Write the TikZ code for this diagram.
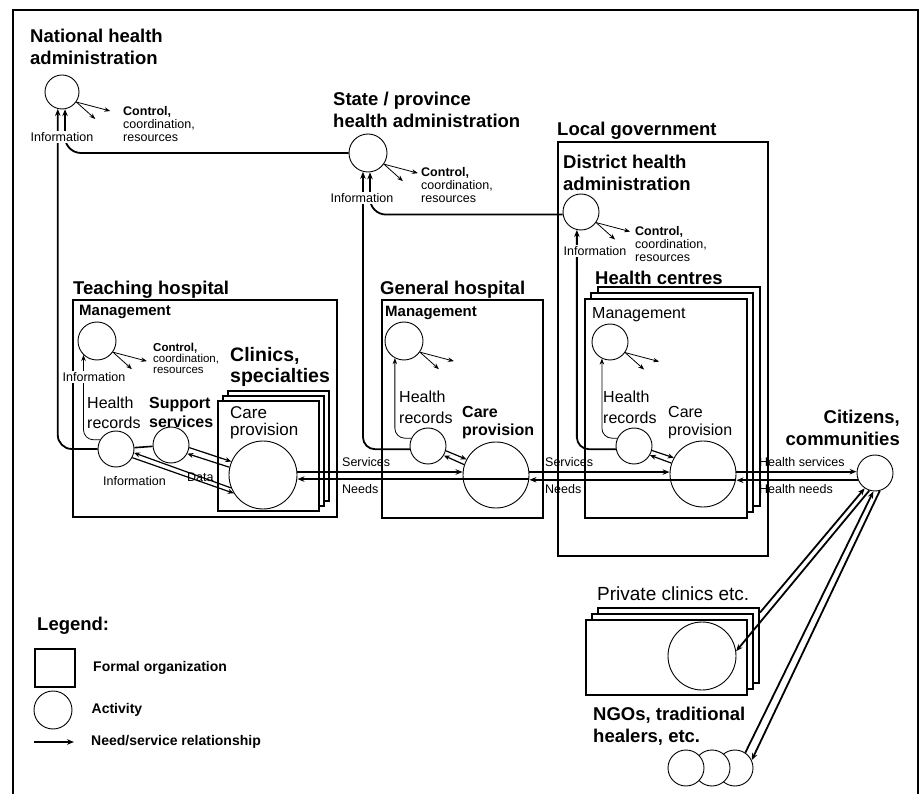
\documentclass[tikz,border=0pt]{standalone}
\usepackage{fontspec}
\setmainfont{Liberation Sans}
\usetikzlibrary{positioning,arrows.meta}

\begin{document}
\begin{tikzpicture}[x=1pt, y=-1pt, >={Stealth[length=7pt,width=5.5pt]},
  box/.style={draw, line width=2pt, fill=white, inner sep=0pt, anchor=north west},
  act/.style={circle, draw, line width=0.9pt, fill=white, inner sep=0pt, minimum size=36pt},
  conn/.style={->, line width=1.8pt},
  link/.style={line width=1.6pt},
  pair/.style={->, line width=1.2pt, >={Stealth[length=6pt,width=5pt]}},
  ctrl/.style={->, line width=0.8pt, >={Stealth[length=6pt,width=4.5pt]}},
  head/.style={font=\bfseries\fontsize{18.5}{21.5}\selectfont, align=left, inner sep=0pt, anchor=north west},
  mgt/.style={font=\bfseries\fontsize{15}{17}\selectfont, inner sep=0pt, anchor=north west},
  lbl/.style={font=\fontsize{16}{19.5}\selectfont, align=left, inner sep=0pt, anchor=north west},
  sml/.style={font=\fontsize{12.5}{14}\selectfont, inner sep=0pt, anchor=north west},
  info/.style={sml, fill=white, inner sep=1.5pt},
  tny/.style={font=\fontsize{12.5}{13}\selectfont, align=left, inner sep=0pt, anchor=north west},
  leg/.style={font=\bfseries\fontsize{14}{16}\selectfont, inner sep=0pt}]

\useasboundingbox (0,0) rectangle (922,794);
\draw[line width=1.5pt] (13,794) -- (13,10) -- (918,10) -- (918,794);

% organizations
\node[box, minimum width=210pt, minimum height=414pt] (lgov) at (557,141) {};
\node[box, minimum width=264pt, minimum height=217pt] (teach) at (72,299) {};
\node[box, minimum width=101pt, minimum height=110pt] (clin3) at (227,390) {};
\node[box, minimum width=101pt, minimum height=110pt] (clin2) at (222,395) {};
\node[box, minimum width=101pt, minimum height=110pt] (clin1) at (217,400) {};
\node[box, minimum width=161pt, minimum height=218pt] (genh) at (381,299) {};
\node[box, minimum width=162pt, minimum height=219pt] (hc3) at (597,286) {};
\node[box, minimum width=162pt, minimum height=219pt] (hc2) at (590,292) {};
\node[box, minimum width=162pt, minimum height=219pt] (hc1) at (584,298) {};
\node[box, minimum width=161pt, minimum height=75pt] (pc3) at (597,607) {};
\node[box, minimum width=161pt, minimum height=75pt] (pc2) at (591,613) {};
\node[box, minimum width=161pt, minimum height=75pt] (pc1) at (585,619) {};

% activities
\node[act, minimum size=34pt] (nat) at (62,92) {};
\node[act, minimum size=38pt] (sta) at (368,153) {};
\node[act] (dis) at (581,212) {};
\node[act, minimum size=38pt] (tmg) at (97,341) {};
\node[act] (thr) at (116,449) {};
\node[act] (tss) at (171,445) {};
\node[act, minimum size=68pt] (tcp) at (263,475) {};
\node[act, minimum size=38pt] (gmg) at (404,341) {};
\node[act] (ghr) at (428,446) {};
\node[act, minimum size=66pt] (gcp) at (496,475) {};
\node[act] (hmg) at (610,342) {};
\node[act] (hhr) at (634,446) {};
\node[act, minimum size=66pt] (hcp) at (703,474) {};
\node[act] (cit) at (875,473) {};
\node[act, minimum size=68pt] (pcl) at (702,656) {};
\node[act] (ng3) at (735,768) {};
\node[act] (ng2) at (712,768) {};
\node[act] (ng1) at (686,768) {};

% information upwards
\draw[conn, rounded corners=14pt] (thr.west) -- (nat.256 |- thr.west) -- (nat.256);
\draw[conn, rounded corners=16pt] (sta.west) -- (nat.280 |- sta.west) -- (nat.280);
\draw[conn, rounded corners=12pt] (ghr.190) -- (sta.255 |- ghr.190) -- (sta.255);
\draw[conn, rounded corners=16pt] (dis.188) -- (sta.276 |- dis.188) -- (sta.276);
\draw[conn, rounded corners=12pt] (hhr.190) -- (dis.257 |- hhr.190) -- (dis.257);
\draw[ctrl, rounded corners=10pt] (thr.150) -- (tmg.226 |- thr.150) -- (tmg.226);
\draw[ctrl, rounded corners=10pt] (ghr.155) -- (gmg.242 |- ghr.155) -- (gmg.242);
\draw[ctrl, rounded corners=10pt] (hhr.155) -- (hmg.244 |- hhr.155) -- (hmg.244);

% control, coordination, resources
\foreach \c in {nat,sta,dis,tmg,gmg,hmg}{
  \path (\c.-35) ++(19,17) coordinate (\c-a) (\c.-35) ++(34,9) coordinate (\c-b);
  \draw[ctrl] (\c.-35) -- (\c-a);
  \draw[ctrl] (\c.-35) -- (\c-b);
}

% inside the hospitals
\draw[link] (thr) -- (tss);
\draw[pair] (tss.-8) -- (tcp.157);
\draw[pair] (tcp.167) -- (tss.-28);
\draw[pair] (tcp.202) -- (thr.-12);
\draw[pair] (thr.-28) -- (tcp.212);
\draw[pair] (ghr.-15) -- (gcp.152);
\draw[pair] (gcp.162) -- (ghr.-31);
\draw[pair] (hhr.-14) -- (hcp.151);
\draw[pair] (hcp.161) -- (hhr.-30);

% services and needs
\draw[conn] (tcp.5) -- (tcp.5 -| gcp.west);
\draw[conn] (gcp.-7) -- (gcp.-7 -| tcp.east);
\draw[conn] (gcp.5) -- (gcp.5 -| hcp.west);
\draw[conn] (hcp.-10) -- (hcp.-10 -| gcp.east);
\draw[conn] (hcp.4) -- (hcp.4 -| cit.west);
\draw[conn] (cit.203) -- (cit.203 -| hcp.east);
\draw[conn] (cit.252) -- (pcl.8);
\draw[conn] (pc3.22) -- (cit.236);
\draw[conn] (cit.-75) -- (ng3.25);
\draw[conn] (ng3.56) -- (cit.-95);

% titles
\node[head] (natt) at (30,29) {National health\\administration};
\node[head] (stat) at (333,92) {State / province\\health administration};
\node[head] (lgt) at (557,122) {Local government};
\node[head] (dist) at (563,155) {District health\\administration};
\node[head] (hct) at (595,271) {Health centres};
\node[head] (tht) at (73,281) {Teaching hospital};
\node[head] (ght) at (380,281) {General hospital};
\node[head, font=\bfseries\fontsize{19.5}{21}\selectfont] (clt) at (230,347) {Clinics,\\specialties};
\node[head, anchor=north east, align=right] (citt) at (900,410) {Citizens,\\communities};
\node[head] (ngt) at (593,707) {NGOs, traditional\\healers, etc.};
\node[lbl, font=\fontsize{19}{22}\selectfont] (pct) at (597,587) {Private clinics etc.};

\node[mgt] (tmgt) at (79,305) {Management};
\node[mgt] (gmgt) at (385,306) {Management};
\node[lbl] (hmgt) at (592,307) {Management};
\node[lbl] (thrt) at (87,397) {Health\\records};
\node[lbl, font=\bfseries\fontsize{16}{19.5}\selectfont] (tsst) at (149,397) {Support\\services};
\node[lbl, font=\fontsize{17}{17}\selectfont] (tcpt) at (230,406) {Care\\provision};
\node[lbl, font=\fontsize{16}{21}\selectfont] (ghrt) at (399,391) {Health\\records};
\node[lbl, font=\bfseries\fontsize{16}{18}\selectfont] (gcpt) at (462,406) {Care\\provision};
\node[lbl, font=\fontsize{16}{21}\selectfont] (hhrt) at (603,391) {Health\\records};
\node[lbl, font=\fontsize{16}{18}\selectfont] (hcpt) at (668,406) {Care\\provision};

% small labels
\node[info] (nati) at (29,131) {Information};
\node[info] (stai) at (329,192) {Information};
\node[info] (disi) at (562,245) {Information};
\node[info] (tmgi) at (61,371) {Information};
\node[sml] (thri) at (103,476) {Information};
\node[sml] (tdat) at (187,473) {Data};
\node[sml] (sv1) at (342,457) {Services};
\node[sml] (nd1) at (342,484) {Needs};
\node[sml] (sv2) at (545,457) {Services};
\node[sml] (nd2) at (545,484) {Needs};
\node[sml] (hsv) at (759,457) {Health services};
\node[sml] (hnd) at (759,484) {Health needs};

\node[tny] (natc) at (123,106) {\textbf{Control,}\\coordination,\\resources};
\node[tny] (stac) at (421,167) {\textbf{Control,}\\coordination,\\resources};
\node[tny] (disc) at (635,226) {\textbf{Control,}\\coordination,\\resources};
\node[tny, font=\fontsize{11.5}{11}\selectfont] (tmgc) at (153,343) {\textbf{Control,}\\coordination,\\resources};

% legend
\node[head] (lgd) at (37,617) {Legend:};
\node[box, minimum width=40pt, minimum height=38pt] (lgbox) at (34,648) {};
\node[act, minimum size=38pt] (lgact) at (53,710) {};
\coordinate (lgl) at (34,742);
\coordinate (lgr) at (74,742);
\draw[conn, line width=1.3pt] (lgl) -- (lgr);
\node[leg, right=17pt of lgbox] (lg1) {Formal organization};
\node[leg, right=19pt of lgact] (lg2) {Activity};
\node[leg, right=17pt of lgr] (lg3) {Need/service relationship};
\end{tikzpicture}
\end{document}
